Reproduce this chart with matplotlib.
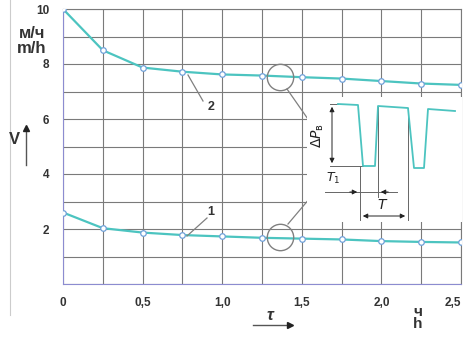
import numpy as np
import matplotlib
matplotlib.use("Agg")
import matplotlib.pyplot as plt
from matplotlib.patches import Rectangle

plt.rcParams['font.family'] = ['Liberation Sans', 'DejaVu Sans']

# данные (часы, м/ч)
tau = [0, 0.25, 0.5, 0.75, 1.0, 1.25, 1.5, 1.75, 2.0, 2.25, 2.5]
v_curve2 = [10.0, 8.5, 7.87, 7.72, 7.62, 7.58, 7.52, 7.47, 7.38, 7.29, 7.24]
v_curve1 = [2.6, 2.03, 1.87, 1.78, 1.73, 1.68, 1.65, 1.62, 1.56, 1.53, 1.51]
x_ticks = [0, 0.5, 1.0, 1.5, 2.0, 2.5]
x_labels = ['0', '0,5', '1,0', '1,5', '2,0', '2,5']
y_ticks = [2, 4, 6, 8, 10]

# схема пульсаций (условные единицы вставки)
wave_t = [31, 51, 56, 68, 71, 101, 107, 117, 121, 148]
wave_p = [118, 117, 56, 56, 116, 114, 54, 54, 113, 111]

W, H = 465, 343
fig = plt.figure(figsize=(W / 100, H / 100), dpi=100)

X0, X1, Y0, Y1 = 63, 461, 284, 9


def fx(x):
    return x / W


def fy(y):
    return 1 - y / H


def dx(x):
    return (x - X0) / (X1 - X0) * 2.5


def dy(y):
    return (Y0 - y) / (Y0 - Y1) * 10


ax = fig.add_axes([fx(X0), fy(Y0), fx(X1) - fx(X0), fy(Y1) - fy(Y0)])
ax.set_xlim(0, 2.5)
ax.set_ylim(0, 10)
ax.set_xticks(x_ticks)
ax.set_xticklabels(x_labels)
ax.set_xticks(np.arange(0, 2.51, 0.25), minor=True)
ax.set_yticks(y_ticks)
ax.set_yticks(range(0, 11), minor=True)
ax.grid(True, which='both', color='#7a7a7a', lw=0.8)
ax.tick_params(which='both', length=0)
ax.tick_params(axis='x', pad=9, labelsize=8.5, labelcolor='#333333')
ax.tick_params(axis='y', pad=10, labelsize=8.5, labelcolor='#333333')
for lab in ax.get_xticklabels() + ax.get_yticklabels():
    lab.set_fontweight('bold')
ax.get_xticklabels()[-1].set_ha('right')
for s in ['left', 'bottom']:
    ax.spines[s].set_color('#8c8cd0')
for s in ['top', 'right']:
    ax.spines[s].set_color('#7a7a7a')
    ax.spines[s].set_linewidth(0.8)

line_c = '#4cc4c0'
for vals in (v_curve2, v_curve1):
    ax.plot(tau, vals, color=line_c, lw=1.6, zorder=3)
    ax.plot(tau, vals, 'o', ms=4, mfc='white', mec='#6fa0d8', mew=0.9, zorder=4)

# кружки-выноски
gray = '#808080'
ax.plot([dx(280)], [dy(77)], 'o', ms=19, mfc='none', mec=gray, mew=1, zorder=5)
ax.plot([dx(280)], [dy(237)], 'o', ms=19, mfc='none', mec=gray, mew=1, zorder=5)
ax.plot([dx(287), dx(310)], [dy(89), dy(122)], color=gray, lw=0.9, zorder=5)
ax.plot([dx(288), dx(310)], [dy(224), dy(198)], color=gray, lw=0.9, zorder=5)

# номера кривых
ax.plot([dx(188), dx(203)], [dy(75), dy(101)], color=gray, lw=0.9, zorder=5)
ax.text(dx(211), dy(107), '2', fontsize=9, fontweight='bold', color='#333333',
        ha='center', va='center', zorder=6)
ax.plot([dx(187), dx(207)], [dy(236), dy(218)], color=gray, lw=0.9, zorder=5)
ax.text(dx(211), dy(212), '1', fontsize=9, fontweight='bold', color='#333333',
        ha='center', va='center', zorder=6)

# вставка со схемой пульсаций
ins = fig.add_axes([fx(307), fy(222), fx(462) - fx(307), fy(97) - fy(222)])
ins.set_xlim(0, 155)
ins.set_ylim(0, 125)
ins.set_facecolor('white')
ins.axis('off')
ins.add_patch(Rectangle((0, 0), 155, 125, facecolor='white', edgecolor='none', zorder=0))
ins.plot(wave_t, wave_p, color=line_c, lw=1.3, zorder=3)

k = '#222222'
lk = '#666666'
# ΔP
ins.plot([23, 31], [118, 118], color=lk, lw=0.7)
ins.plot([23, 56], [56, 56], color=lk, lw=0.7)
ins.annotate('', xy=(25, 118), xytext=(25, 56),
             arrowprops=dict(arrowstyle='<|-|>', color=k, lw=0.7, mutation_scale=7))
ins.text(11, 87, r'$\Delta P_{\mathrm{в}}$', rotation=90, fontsize=10, color='#222222',
         ha='center', va='center')
# выносные линии
ins.plot([53, 53], [56, 2], color=lk, lw=0.7)
ins.plot([71, 71], [116, 25], color=lk, lw=0.7)
ins.plot([101, 101], [114, 2], color=lk, lw=0.7)
# T1
ins.plot([18, 90], [30, 30], color=lk, lw=0.7)
ins.annotate('', xy=(53, 30), xytext=(40, 30),
             arrowprops=dict(arrowstyle='-|>', color=k, lw=0.7, mutation_scale=7))
ins.annotate('', xy=(71, 30), xytext=(84, 30),
             arrowprops=dict(arrowstyle='-|>', color=k, lw=0.7, mutation_scale=7))
ins.text(26, 44, r'$T_1$', fontsize=9, color='#222222', ha='center', va='center')
# T
ins.annotate('', xy=(53, 6), xytext=(101, 6),
             arrowprops=dict(arrowstyle='<|-|>', color=k, lw=0.7, mutation_scale=7))
ins.text(76, 17, r'$\mathbf{\mathit{T}}$', fontsize=10, color='#222222', ha='center', va='center')

# подписи осей
fig.text(fx(32), fy(41), 'м/ч\nm/h', fontsize=12, fontweight='bold', color='#333333',
         ha='center', va='center', linespacing=0.95)
fig.text(fx(14), fy(140), 'V', fontsize=12, fontweight='bold', color='#333333',
         ha='center', va='center')
fig.add_artist(plt.Line2D([fx(26), fx(26)], [fy(165), fy(130)], color='#555555', lw=1))
fig.add_artist(plt.Line2D([fx(26)], [fy(128)], marker='^', ms=4, color='#222222', lw=0))
fig.text(fx(270), fy(315), 'τ', fontsize=12, fontweight='bold', fontstyle='italic',
         color='#333333', ha='center', va='center')
fig.add_artist(plt.Line2D([fx(253), fx(288)], [fy(325), fy(325)], color='#555555', lw=1))
fig.add_artist(plt.Line2D([fx(290)], [fy(325)], marker='>', ms=4, color='#222222', lw=0))
fig.text(fx(418), fy(318), 'ч\nh', fontsize=11, fontweight='bold', color='#333333',
         ha='center', va='center', linespacing=0.9)

# рамка
fig.add_artist(plt.Line2D([fx(10), fx(10)], [fy(0), fy(315)], color='#cccccc', lw=0.8))

fig.savefig('out.png', dpi=100)
